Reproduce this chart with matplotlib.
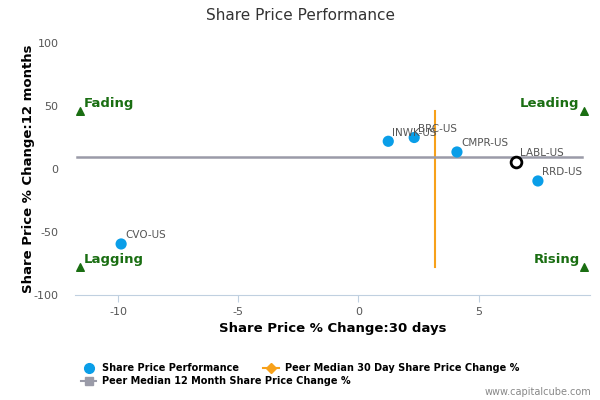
import numpy as np
import matplotlib.pyplot as plt
from matplotlib.lines import Line2D

plt.rcParams['axes.unicode_minus'] = False

# company points: 30 day change vs 12 month change
names = ['CVO-US', 'INWK-US', 'BRC-US', 'CMPR-US', 'LABL-US', 'RRD-US']
chg_30d = [-9.88, 1.24, 2.32, 4.1, 6.56, 7.47]
chg_12m = [-59.5, 22.0, 25.0, 13.5, 5.6, -9.5]
highlight = 'LABL-US'

peer_30d = 3.2
peer_12m = 9.5
peer_30d_span = [-78, 46]
peer_12m_span = [-11.7, 9.3]

quadrants = ['Fading', 'Leading', 'Lagging', 'Rising']
quad_x = [-11.6, 9.38, -11.6, 9.38]
quad_y = [46, 46, -78, -78]

fig = plt.figure(figsize=(6, 4), dpi=100)
ax = fig.add_axes([0.125, 0.2625, 0.858, 0.63])

ax.plot([peer_30d, peer_30d], peer_30d_span, color='#f7a11a', lw=1.5, zorder=2)
ax.plot(peer_12m_span, [peer_12m, peer_12m], color='#9a9ba8', lw=1.8, zorder=2)

for n, x, y in zip(names, chg_30d, chg_12m):
    if n == highlight:
        ax.scatter(x, y, s=60, facecolor='white', edgecolor='black', lw=2, zorder=4)
    else:
        ax.scatter(x, y, s=65, color='#0a9ee8', edgecolor='none', zorder=3)
    ax.annotate(n, (x, y), xytext=(3, 4), textcoords='offset points',
                fontsize=7.5, color='#555555', zorder=5)

for q, x, y in zip(quadrants, quad_x, quad_y):
    ax.scatter(x, y, marker='^', s=30, color='#1a6e12', zorder=3)
    ha = 'left' if x < 0 else 'right'
    dx = 3 if x < 0 else -3
    ax.annotate(q, (x, y), xytext=(dx, 3), textcoords='offset points', ha=ha,
                fontsize=9.5, fontweight='bold', color='#1a6e12')

ax.set_xlim(-11.8, 9.63)
ax.set_ylim(-100, 100)
ax.set_xticks([-10, -5, 0, 5])
ax.set_yticks([-100, -50, 0, 50, 100])
for s in ['top', 'right', 'left']:
    ax.spines[s].set_visible(False)
ax.spines['bottom'].set_color('#c0d0e0')
ax.tick_params(axis='x', colors='#c0d0e0', labelcolor='#555555', labelsize=8, length=5)
ax.tick_params(axis='y', length=0, labelcolor='#555555', labelsize=8, pad=12)
ax.set_xlabel('Share Price % Change:30 days', fontsize=9.5, fontweight='bold', labelpad=4)
ax.set_ylabel('Share Price % Change:12 months', fontsize=9.5, fontweight='bold', labelpad=-1)

fig.text(0.5, 0.96, 'Share Price Performance', ha='center', va='center', fontsize=11, color='#333333')

h1 = Line2D([], [], marker='o', color='#0a9ee8', ls='none', markersize=7)
h2 = Line2D([], [], marker='D', color='#f7a11a', markersize=5, lw=1.5)
h3 = Line2D([], [], marker='s', color='#9a9ba8', markersize=6, lw=1.5)
fig.legend([h1, h2], ['Share Price Performance', 'Peer Median 30 Day Share Price Change %'],
           loc='center left', bbox_to_anchor=(0.12, 0.08), ncol=2, frameon=False,
           prop={'size': 7, 'weight': 'bold'}, handlelength=1.6, columnspacing=2.5, handletextpad=0.6)
fig.legend([h3], ['Peer Median 12 Month Share Price Change %'],
           loc='center left', bbox_to_anchor=(0.12, 0.047), frameon=False,
           prop={'size': 7, 'weight': 'bold'}, handlelength=1.6, handletextpad=0.6)
fig.text(0.985, 0.02, 'www.capitalcube.com', ha='right', va='center', fontsize=7, color='#888888')

fig.savefig('out.png', dpi=100)
